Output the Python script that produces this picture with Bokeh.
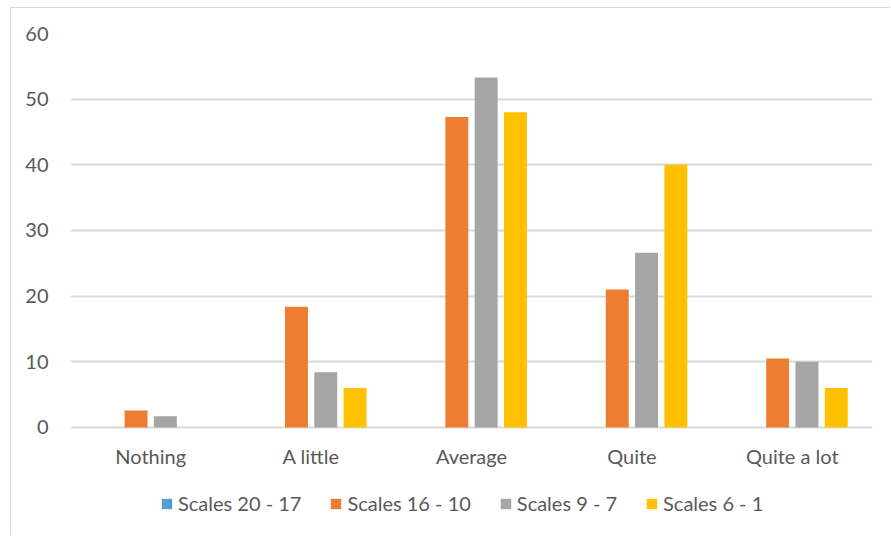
from bokeh.plotting import figure
from bokeh.models import FactorRange, Range1d, FixedTicker, Legend, LegendItem, ColumnDataSource
from bokeh.core.properties import value
from bokeh.transform import dodge
from bokeh.embed import file_html
from bokeh.resources import INLINE

categories = ["Nothing", "A little", "Average", "Quite", "Quite a lot"]
series_names = ["Scales 20 - 17", "Scales 16 - 10", "Scales 9 - 7", "Scales 6 - 1"]
s20_17 = [0, 0, 0, 0, 0]
s16_10 = [2.6, 18.4, 47.3, 21.0, 10.5]
s9_7 = [1.7, 8.4, 53.3, 26.6, 10.0]
s6_1 = [0, 6.0, 48.0, 40.0, 6.0]
y_ticks = [0, 10, 20, 30, 40, 50, 60]

colors = ["#5B9BD5", "#ED7D31", "#A5A5A5", "#FFC000"]
FONT = "Lato"
TEXT_COLOR = "#595959"
GRID_COLOR = "#D9D9D9"

source = ColumnDataSource(dict(cat=categories, a=s20_17, b=s16_10, c=s9_7, d=s6_1,
                               base=[0] * len(categories)))

# the frame reaches down to the bottom of the chart so that category labels and the
# legend (drawn inside it) are not clipped; 0 sits at the old axis position
p = figure(
    x_range=FactorRange(*categories),
    y_range=Range1d(-16.6, 60),
    width=880, height=528,
    output_backend="svg", toolbar_location=None,
    min_border_left=59, min_border_right=19, min_border_top=25, min_border_bottom=0,
    styles={"margin-left": "10px", "margin-top": "7px",
            "border-left": "1px solid #D9D9D9", "border-top": "1px solid #D9D9D9"},
)
p.outline_line_color = None
p.background_fill_color = "white"
p.border_fill_color = "white"

slot = 0.1827
offsets = [-1.5 * slot, -0.5 * slot, 0.5 * slot, 1.5 * slot]
cols = ["a", "b", "c", "d"]
renderers = []
for col, off, color in zip(cols, offsets, colors):
    r = p.vbar(x=dodge("cat", off, range=p.x_range), top=col, bottom="base", width=0.143,
               source=source, fill_color=color, line_color=None)
    renderers.append(r)

# category labels under the zero line
p.text(x="cat", y="base", text="cat", source=source, y_offset=29,
       text_align="center", text_baseline="middle",
       text_font=value(FONT), text_font_size="20px", text_color=TEXT_COLOR)

# axes
p.yaxis.ticker = FixedTicker(ticks=y_ticks)
p.yaxis.axis_line_color = None
p.yaxis.major_tick_line_color = None
p.yaxis.minor_tick_line_color = None
p.yaxis.major_tick_out = 0
p.yaxis.major_label_standoff = 22
p.yaxis.major_label_text_font = FONT
p.yaxis.major_label_text_font_size = "20px"
p.yaxis.major_label_text_color = TEXT_COLOR
p.xaxis.visible = False

p.xgrid.grid_line_color = None
p.ygrid.grid_line_color = GRID_COLOR
p.ygrid.grid_line_width = 2

items = [LegendItem(label=n, renderers=[r]) for n, r in zip(series_names, renderers)]
legend = Legend(items=items, orientation="horizontal", location=(90, 21))
legend.border_line_color = None
legend.background_fill_alpha = 0
legend.padding = 0
legend.margin = 0
legend.spacing = 28
legend.label_standoff = 5
legend.glyph_width = 13
legend.glyph_height = 13
legend.label_height = 20
legend.label_text_font = FONT
legend.label_text_font_size = "20px"
legend.label_text_color = TEXT_COLOR
p.add_layout(legend, "center")

open("out.html", "w").write(file_html(p, INLINE))
